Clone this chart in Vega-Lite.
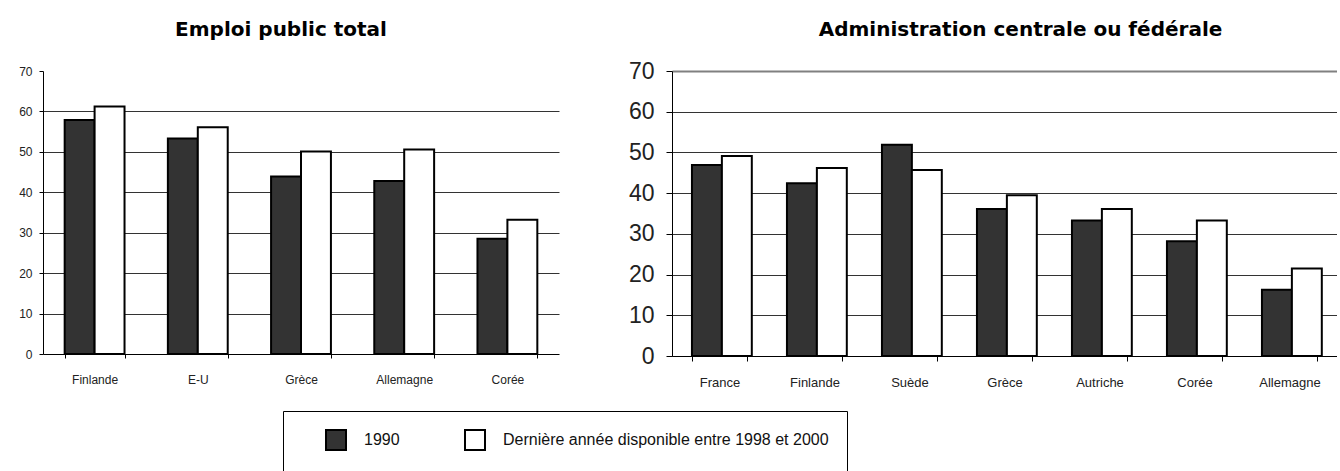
{
  "$schema": "https://vega.github.io/schema/vega-lite/v6.json",
  "padding": {"left": 18, "top": 20, "right": 0, "bottom": 0},
  "background": "white",
  "spacing": 69,
  "data": {
    "values": [
      {"panel": "total", "pays": "Finlande", "serie": "1990", "valeur": 57.9},
      {"panel": "total", "pays": "Finlande", "serie": "Dernière année disponible entre 1998 et 2000", "valeur": 61.2},
      {"panel": "total", "pays": "E-U", "serie": "1990", "valeur": 53.3},
      {"panel": "total", "pays": "E-U", "serie": "Dernière année disponible entre 1998 et 2000", "valeur": 56.1},
      {"panel": "total", "pays": "Grèce", "serie": "1990", "valeur": 43.9},
      {"panel": "total", "pays": "Grèce", "serie": "Dernière année disponible entre 1998 et 2000", "valeur": 50.1},
      {"panel": "total", "pays": "Allemagne", "serie": "1990", "valeur": 42.8},
      {"panel": "total", "pays": "Allemagne", "serie": "Dernière année disponible entre 1998 et 2000", "valeur": 50.6},
      {"panel": "total", "pays": "Corée", "serie": "1990", "valeur": 28.5},
      {"panel": "total", "pays": "Corée", "serie": "Dernière année disponible entre 1998 et 2000", "valeur": 33.2},
      {"panel": "central", "pays": "France", "serie": "1990", "valeur": 46.9},
      {"panel": "central", "pays": "France", "serie": "Dernière année disponible entre 1998 et 2000", "valeur": 49.1},
      {"panel": "central", "pays": "Finlande", "serie": "1990", "valeur": 42.4},
      {"panel": "central", "pays": "Finlande", "serie": "Dernière année disponible entre 1998 et 2000", "valeur": 46.2},
      {"panel": "central", "pays": "Suède", "serie": "1990", "valeur": 51.9},
      {"panel": "central", "pays": "Suède", "serie": "Dernière année disponible entre 1998 et 2000", "valeur": 45.7},
      {"panel": "central", "pays": "Grèce", "serie": "1990", "valeur": 36.1},
      {"panel": "central", "pays": "Grèce", "serie": "Dernière année disponible entre 1998 et 2000", "valeur": 39.5},
      {"panel": "central", "pays": "Autriche", "serie": "1990", "valeur": 33.3},
      {"panel": "central", "pays": "Autriche", "serie": "Dernière année disponible entre 1998 et 2000", "valeur": 36.1},
      {"panel": "central", "pays": "Corée", "serie": "1990", "valeur": 28.2},
      {"panel": "central", "pays": "Corée", "serie": "Dernière année disponible entre 1998 et 2000", "valeur": 33.3},
      {"panel": "central", "pays": "Allemagne", "serie": "1990", "valeur": 16.3},
      {"panel": "central", "pays": "Allemagne", "serie": "Dernière année disponible entre 1998 et 2000", "valeur": 21.5}
    ]
  },
  "hconcat": [
    {
      "width": 516,
      "height": 283,
      "title": {"text": "Emploi public total", "font": "DejaVu Sans", "fontSize": 20, "fontWeight": "bold", "color": "black", "offset": 5, "dx": -20, "baseline": "bottom"},
      "transform": [{"filter": "datum.panel == 'total'"}],
      "mark": {"type": "bar", "stroke": "black", "strokeWidth": 2},
      "encoding": {
        "x": {"field": "pays", "type": "nominal", "sort": null,
          "scale": {"paddingInner": 0.42, "paddingOuter": 0.21},
          "axis": {"title": null, "labelAngle": 0, "tickBand": "extent", "labelFontSize": 12, "labelPadding": 16, "tickSize": 4}},
        "xOffset": {"field": "serie", "type": "nominal", "sort": null, "scale": {"paddingInner": 0}},
        "y": {"field": "valeur", "type": "quantitative",
          "scale": {"domain": [0, 70], "nice": false},
          "axis": {"title": null, "values": [0, 10, 20, 30, 40, 50, 60, 70], "tickSize": 4, "labelPadding": 7, "labelFontSize": 12,
            "gridColor": {"condition": {"test": "datum.value == 70 || datum.value == 0", "value": "transparent"}, "value": "#333333"}}},
        "color": {"field": "serie", "type": "nominal", "sort": null,
          "scale": {"domain": ["1990", "Dernière année disponible entre 1998 et 2000"], "range": ["#333333", "#ffffff"]},
          "legend": {"title": null, "orient": "none", "legendX": 240, "legendY": 340, "direction": "horizontal",
            "encode": {"symbols": {"update": {"fill": {"signal": "datum.value == '1990' ? '#000000' : '#ffffff'"}, "stroke": {"value": "#000000"}, "strokeWidth": {"value": 2}}}}}}
      }
    },
    {
      "width": 665,
      "height": 285,
      "title": {"text": "Administration centrale ou fédérale", "font": "DejaVu Sans", "fontSize": 20, "fontWeight": "bold", "color": "black", "offset": 0, "dx": 16, "baseline": "bottom"},
      "transform": [{"filter": "datum.panel == 'central'"}],
      "mark": {"type": "bar", "stroke": "black", "strokeWidth": 2},
      "encoding": {
        "x": {"field": "pays", "type": "nominal", "sort": null,
          "scale": {"paddingInner": 0.42, "paddingOuter": 0.21},
          "axis": {"title": null, "labelAngle": 0, "tickBand": "extent", "labelFontSize": 13, "labelPadding": 15, "tickSize": 5}},
        "xOffset": {"field": "serie", "type": "nominal", "sort": null, "scale": {"paddingInner": 0}},
        "y": {"field": "valeur", "type": "quantitative",
          "scale": {"domain": [0, 70], "nice": false},
          "axis": {"title": null, "values": [0, 10, 20, 30, 40, 50, 60, 70], "tickSize": 6, "labelPadding": 12, "labelFontSize": 23,
            "gridColor": {"condition": {"test": "datum.value == 70", "value": "#808080"}, "value": "#333333"},
            "gridWidth": {"condition": {"test": "datum.value == 70", "value": 2}, "value": 1}}},
        "color": {"field": "serie", "type": "nominal", "sort": null,
          "scale": {"domain": ["1990", "Dernière année disponible entre 1998 et 2000"], "range": ["#333333", "#ffffff"]},
          "legend": {"title": null, "orient": "none", "legendX": 240, "legendY": 340, "direction": "horizontal",
            "encode": {"symbols": {"update": {"fill": {"signal": "datum.value == '1990' ? '#000000' : '#ffffff'"}, "stroke": {"value": "#000000"}, "strokeWidth": {"value": 2}}}}}}
      }
    }
  ],
  "config": {
    "view": {"stroke": null},
    "font": "Liberation Sans",
    "axis": {"domainColor": "black", "tickColor": "black", "labelColor": "#222222", "labelFont": "Liberation Sans", "gridWidth": 1, "domainWidth": 1},
    "axisX": {"grid": false},
    "legend": {
      "symbolType": "square",
      "symbolSize": 400,
      "symbolStrokeColor": "black",
      "symbolStrokeWidth": 2,
      "symbolOffset": 24,
      "labelFontSize": 16,
      "labelFont": "Liberation Sans",
      "labelColor": "#111111",
      "labelOffset": 17,
      "labelLimit": 600,
      "columnPadding": 40,
      "padding": 18,
      "strokeColor": "black"
    }
  }
}
